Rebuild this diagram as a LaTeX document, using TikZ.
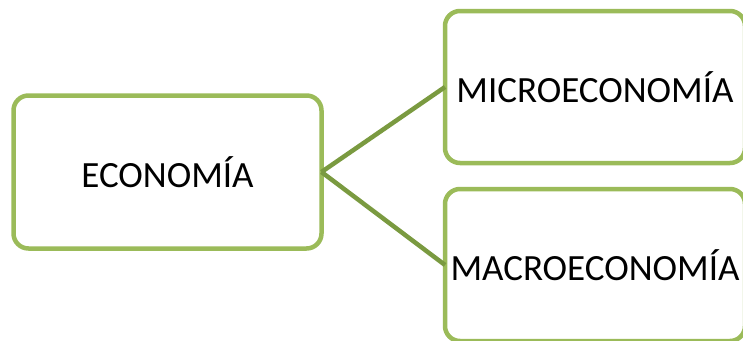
\documentclass[tikz,border=0pt]{standalone}
\usepackage{fontspec}
\setmainfont{Carlito}
\definecolor{boxgreen}{HTML}{9BBB59}
\definecolor{linkgreen}{HTML}{7A9A40}
\begin{document}
\begin{tikzpicture}[x=1pt,y=-1pt,
  concept/.style={draw=boxgreen, line width=4.5pt, rounded corners=15pt, fill=white,
    inner sep=0pt, outer sep=0pt, font=\fontsize{37}{44}\selectfont, text=black},
  link/.style={draw=linkgreen, line width=4.5pt}]
\useasboundingbox (0,0) rectangle (743,340);
\clip (0,0) rectangle (743,340);
\node[concept, minimum width=308pt, minimum height=153pt] (eco) at (167.5,172) {ECONOMÍA};
\node[concept, minimum width=300pt, minimum height=152pt] (micro) at (595,87) {MICROECONOMÍA};
\node[concept, minimum width=300pt, minimum height=152pt] (macro) at (595,265) {MACROECONOMÍA};
\draw[link] (eco.east) -- (micro.west);
\draw[link] (eco.east) -- (macro.west);
\end{tikzpicture}
\end{document}
